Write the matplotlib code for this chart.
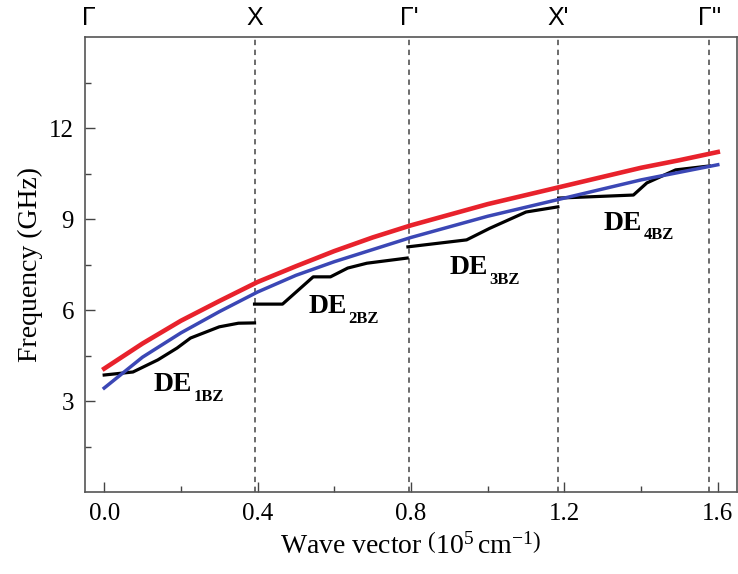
import numpy as np
import matplotlib
matplotlib.use('Agg')
import matplotlib.pyplot as plt
from matplotlib.ticker import MultipleLocator, FormatStrFormatter
import matplotlib.transforms as mtransforms

plt.rcParams['mathtext.fontset'] = 'custom'
plt.rcParams['mathtext.rm'] = 'Liberation Serif'
plt.rcParams['mathtext.it'] = 'Liberation Serif:italic'
plt.rcParams['mathtext.bf'] = 'Liberation Serif:bold'

# upper dispersion curves (red / blue)
k_curve = [0.0, 0.1, 0.2, 0.3, 0.4, 0.5, 0.6, 0.7, 0.8, 0.9, 1.0, 1.1, 1.2, 1.3, 1.4, 1.5, 1.6]
f_red = [4.07, 4.9, 5.65, 6.3, 6.93, 7.45, 7.95, 8.4, 8.8, 9.15, 9.5, 9.8, 10.1, 10.4, 10.7, 10.95, 11.22]
f_blue = [3.43, 4.45, 5.25, 5.95, 6.6, 7.15, 7.6, 8.0, 8.4, 8.75, 9.1, 9.4, 9.7, 10.0, 10.3, 10.55, 10.8]

# DE modes, one segment per Brillouin zone
k_de = [
    [0.0, 0.075, 0.14, 0.19, 0.225, 0.30, 0.35, 0.392],
    [0.392, 0.465, 0.545, 0.59, 0.635, 0.685, 0.79],
    [0.792, 0.945, 1.005, 1.10, 1.183],
    [1.185, 1.38, 1.415, 1.49, 1.578],
]
f_de = [
    [3.86, 3.96, 4.36, 4.75, 5.08, 5.45, 5.57, 5.58],
    [6.2, 6.2, 7.1, 7.1, 7.39, 7.55, 7.72],
    [8.09, 8.32, 8.7, 9.24, 9.41],
    [9.7, 9.8, 10.2, 10.63, 10.76],
]
de_labels = ['1BZ', '2BZ', '3BZ', '4BZ']
de_label_pos = [(0.128, 3.33), (0.532, 5.91), (0.90, 7.18), (1.303, 8.66)]

# zone boundaries and symmetry points
zone_k = [0.392, 0.796, 1.183, 1.578]
sym_k = [-0.04, 0.392, 0.796, 1.183, 1.578]
sym_names = ['Γ', 'X', "Γ'", "X'", "Γ''"]

fig = plt.figure(figsize=(7.38, 5.74), dpi=100)
ax = fig.add_axes([0.1152, 0.1429, 0.8834, 0.7918])

for xb in zone_k:
    ax.axvline(xb, color='#444444', ls=(0, (3.5, 3)), lw=1.1, zorder=1)

ax.plot(k_curve, f_red, color='#e8222c', lw=3.3, zorder=3)
ax.plot(k_curve, f_blue, color='#3b47b5', lw=2.5, zorder=4)
for kk, ff in zip(k_de, f_de):
    ax.plot(kk, ff, color='black', lw=2.3, zorder=2)

for lab, (x, y) in zip(de_labels, de_label_pos):
    ax.text(x, y, 'DE', family='Liberation Serif', fontweight='bold', fontsize=20,
            va='baseline', ha='left')
    off = mtransforms.offset_copy(ax.transData, fig=fig, x=29, y=-7, units='points')
    ax.text(x, y, lab, family='Liberation Serif', fontweight='bold', fontsize=12,
            va='baseline', ha='left', transform=off)

trans = mtransforms.blended_transform_factory(ax.transData, fig.transFigure)
for xs, name in zip(sym_k, sym_names):
    ax.text(xs, 0.968, name, transform=trans, family='Liberation Sans', fontsize=18,
            ha='center', va='center')

ax.set_xlim(-0.05, 1.65)
ax.set_ylim(0, 15)
ax.set_xticks([0.0, 0.4, 0.8, 1.2, 1.6])
ax.xaxis.set_minor_locator(MultipleLocator(0.2))
ax.xaxis.set_major_formatter(FormatStrFormatter('%.1f'))
ax.set_yticks([3, 6, 9, 12])
ax.set_yticks([1.5, 4.5, 7.5, 10.5, 13.5], minor=True)
ax.tick_params(which='both', direction='in', color='#444444', width=1.0,
               labelsize=18, pad=8)
ax.tick_params(which='major', length=7)
ax.tick_params(which='minor', length=4)
for lbl in ax.get_xticklabels() + ax.get_yticklabels():
    lbl.set_family('Liberation Serif')
for sp in ax.spines.values():
    sp.set_color('#555555')
    sp.set_linewidth(1.2)

ax.set_xlabel(r'Wave vector $\left(10^5\,\mathrm{cm}^{-1}\right)$', family='Liberation Serif',
              fontsize=20, labelpad=6)
ax.set_ylabel('Frequency (GHz)', family='Liberation Serif', fontsize=20, labelpad=4)

fig.savefig('out.png', dpi=100)
